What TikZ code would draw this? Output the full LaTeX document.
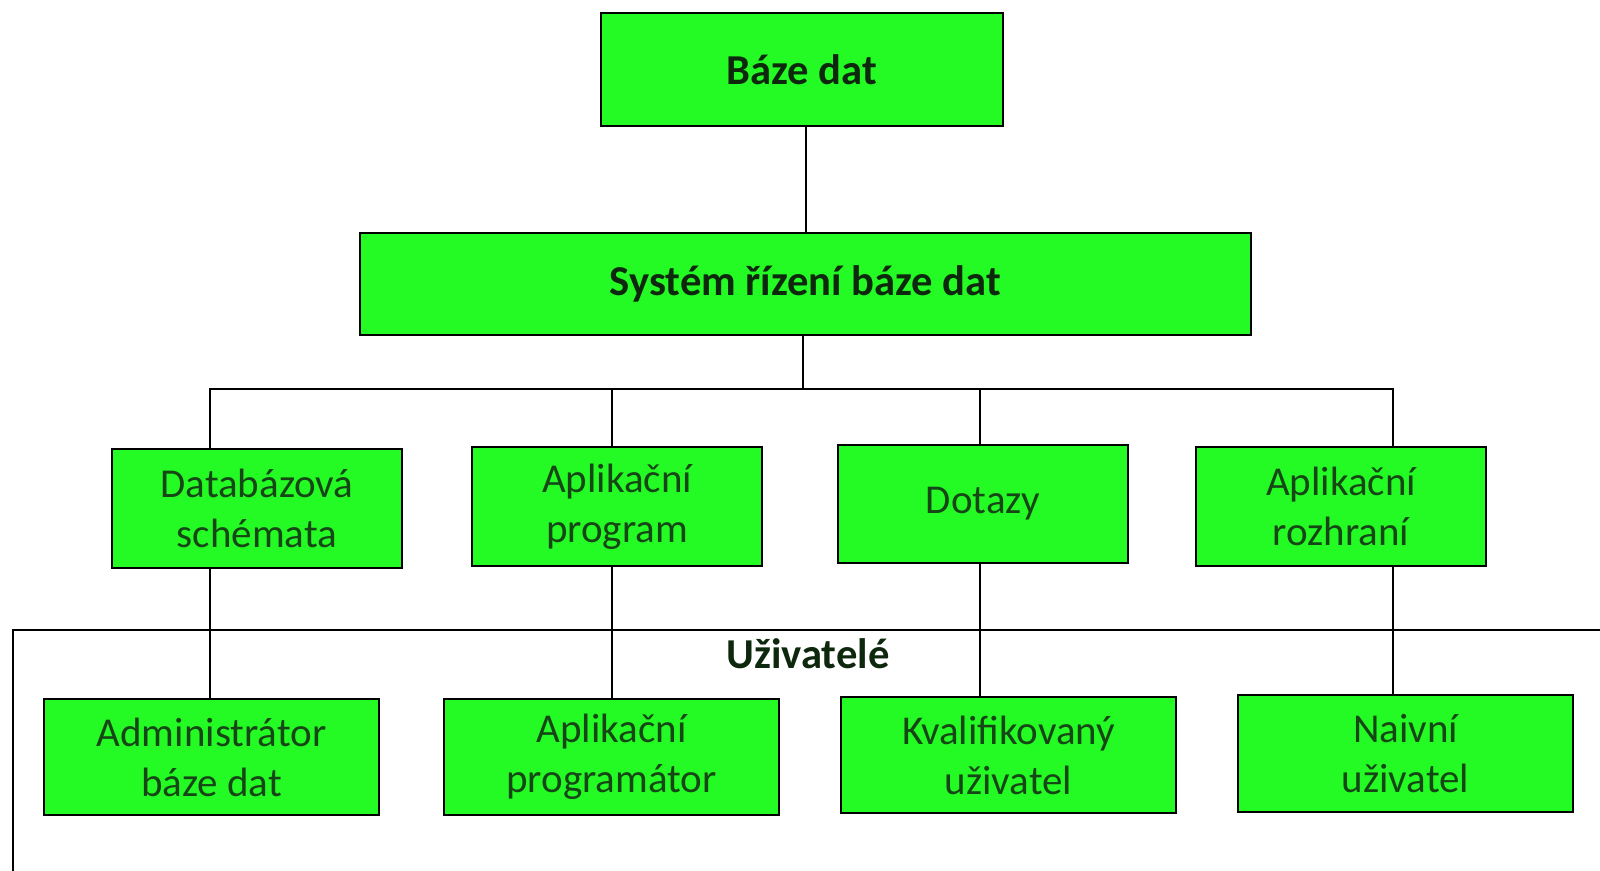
\documentclass[tikz,border=0pt]{standalone}
\usepackage{fontspec}
\setmainfont{Carlito}
\definecolor{boxgreen}{RGB}{36,250,36}
\definecolor{txtgreen}{RGB}{22,70,22}
\definecolor{txtdark}{RGB}{14,40,14}
\begin{document}
\begin{tikzpicture}[x=0.5pt,y=-0.5pt,
  box/.style={draw=black,line width=1pt,fill=boxgreen,text=txtgreen,align=center,
    font=\fontsize{20.5}{25}\selectfont,inner sep=0pt},
  bbox/.style={box,text=txtdark,font=\fontsize{21.3}{25}\selectfont\bfseries},
  conn/.style={line width=1pt,draw=black}]
\useasboundingbox (0,0) rectangle (1600,871);
\fill[white] (0,0) rectangle (1600,871);

% users frame
\coordinate (fbl) at (13,871);
\coordinate (ftl) at (13,630);
\coordinate (ftr) at (1600,630);
\draw[conn] (fbl) -- (ftl) -- (ftr);
\node[font=\fontsize{21.3}{25}\selectfont\bfseries,text=txtdark] (uziv) at (808,654) {Uživatelé};

% top
\node[bbox,minimum width=201pt,minimum height=56.5pt] (db) at (802,69.5) {Báze dat};
\node[bbox,minimum width=445.5pt,minimum height=51pt] (dbms) at (805.5,284) {Systém řízení báze dat};

% row 2
\node[box,minimum width=145pt,minimum height=59.5pt] (r2a) at (257,508.5) {Databázová\\schémata};
\node[box,minimum width=145pt,minimum height=59.5pt] (r2b) at (617,506.5) {Aplikační\\program};
\node[box,minimum width=145pt,minimum height=59pt] (r2c) at (983,504) {Dotazy};
\node[box,minimum width=145pt,minimum height=59.5pt] (r2d) at (1341,506.5) {Aplikační\\rozhraní};

% row 3
\node[box,minimum width=167.5pt,minimum height=58pt] (r3a) at (211.5,757) {Administrátor\\báze dat};
\node[box,minimum width=167.5pt,minimum height=58pt] (r3b) at (611.5,757) {Aplikační\\programátor};
\node[box,minimum width=167.5pt,minimum height=58pt] (r3c) at (1008.5,755) {Kvalifikovaný\\uživatel};
\node[box,minimum width=167.5pt,minimum height=58.5pt] (r3d) at (1405.5,753.5) {Naivní\\uživatel};

% connector coordinates
\coordinate (xa) at (210,389);
\coordinate (xb) at (612,389);
\coordinate (xc) at (980,389);
\coordinate (xd) at (1393,389);
\coordinate (xm) at (803,389);

\draw[conn] (db.south -| dbms.north) -- (dbms.north);
\draw[conn] (dbms.south -| xm) -- (xm);
\draw[conn] (r2a.north -| xa) -- (xa) -- (xd) -- (r2d.north -| xd);
\draw[conn] (xb) -- (r2b.north -| xb);
\draw[conn] (xc) -- (r2c.north -| xc);

\draw[conn] (r2a.south -| xa) -- (r3a.north -| xa);
\draw[conn] (r2b.south -| xb) -- (r3b.north -| xb);
\draw[conn] (r2c.south -| xc) -- (r3c.north -| xc);
\draw[conn] (r2d.south -| xd) -- (r3d.north -| xd);
\end{tikzpicture}
\end{document}
